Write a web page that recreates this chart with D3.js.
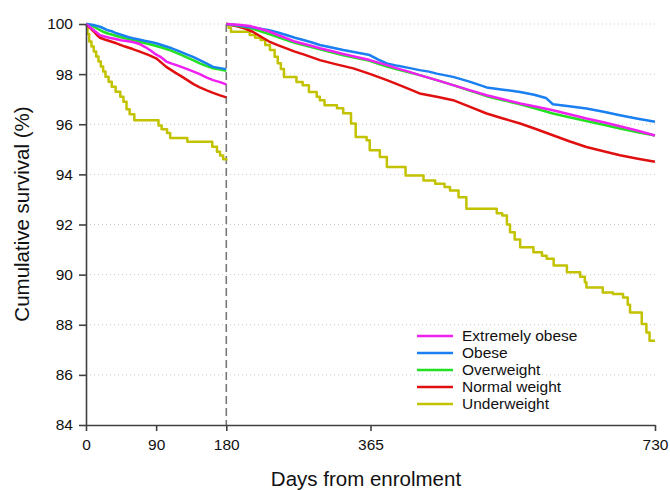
<!DOCTYPE html>
<html>
<head>
<meta charset="utf-8">
<script src="https://cdnjs.cloudflare.com/ajax/libs/d3/7.8.5/d3.min.js"></script>
<style>
  body { margin: 0; background: #fff; font-family: "Liberation Sans", Arial, sans-serif; }
</style>
</head>
<body>
<div id="chart"></div>
<script>
// ---- data: [day, cumulative survival %] ----
// first window (0-180 days)
var extObese1 = [[0,100],[5,99.88],[10,99.75],[18,99.55],[24,99.5],[30,99.45],[38,99.4],[45,99.35],[52,99.32],[60,99.28],[69,99.2],[76,99.08],[82,98.96],[88,98.82],[95,98.7],[103,98.5],[110,98.42],[116,98.36],[123,98.28],[130,98.2],[138,98.1],[146,98.0],[155,97.86],[163,97.76],[172,97.68],[180,97.59]];
var obese1 = [[0,100],[8,99.97],[13,99.93],[18,99.89],[23,99.82],[28,99.75],[34,99.7],[39,99.63],[45,99.57],[50,99.52],[55,99.47],[60,99.43],[68,99.38],[75,99.33],[83,99.28],[90,99.23],[97,99.16],[103,99.1],[110,99.03],[116,98.96],[123,98.87],[130,98.78],[138,98.68],[146,98.56],[155,98.42],[163,98.29],[172,98.24],[180,98.2]];
var overweight1 = [[0,100],[8,99.92],[13,99.84],[18,99.76],[23,99.68],[28,99.62],[34,99.57],[39,99.52],[45,99.47],[50,99.43],[55,99.4],[60,99.36],[68,99.3],[75,99.24],[83,99.18],[90,99.12],[97,99.06],[103,99.0],[110,98.93],[116,98.85],[123,98.76],[130,98.66],[138,98.55],[146,98.43],[155,98.32],[163,98.23],[172,98.18],[180,98.13]];
var normal1 = [[0,100],[5,99.85],[10,99.7],[14,99.56],[18,99.45],[24,99.38],[30,99.32],[39,99.23],[45,99.16],[50,99.1],[60,99.0],[69,98.9],[80,98.77],[90,98.63],[97,98.45],[103,98.29],[109,98.17],[115,98.05],[123,97.9],[130,97.76],[138,97.6],[146,97.47],[155,97.35],[163,97.25],[172,97.15],[180,97.07]];
var under1 = [[0,100],[2,99.6],[4,99.3],[7,99.1],[10,98.9],[13,98.7],[16,98.5],[19,98.3],[22,98.1],[25,97.9],[29,97.7],[33,97.5],[38,97.3],[44,97.1],[48,96.9],[52,96.6],[56,96.4],[62,96.16],[93,95.95],[97,95.8],[104,95.65],[108,95.45],[130,95.3],[162,95.1],[168,94.9],[172,94.75],[176,94.6],[180,94.55]];

// second window (180-730 days, restarted at 100%)
var extObese2 = [[180,100],[195,99.97],[210,99.92],[222,99.82],[235,99.7],[246,99.56],[257,99.43],[268,99.3],[280,99.2],[290,99.12],[300,99.03],[315,98.92],[330,98.8],[347,98.68],[364,98.56],[375,98.46],[386,98.36],[400,98.22],[414,98.1],[428,97.96],[450,97.76],[471,97.56],[492,97.36],[514,97.16],[535,97.0],[557,96.83],[578,96.7],[599,96.56],[620,96.4],[642,96.23],[664,96.08],[685,95.92],[708,95.74],[730,95.55]];
var obese2 = [[180,100],[195,99.95],[210,99.88],[222,99.82],[235,99.75],[246,99.66],[257,99.56],[268,99.45],[280,99.35],[290,99.26],[300,99.16],[315,99.06],[330,98.96],[347,98.86],[364,98.76],[375,98.58],[386,98.43],[400,98.33],[414,98.25],[428,98.16],[440,98.1],[450,98.02],[471,97.89],[492,97.7],[514,97.47],[535,97.38],[557,97.29],[575,97.18],[590,97.05],[599,96.8],[620,96.72],[642,96.63],[664,96.5],[685,96.36],[708,96.22],[730,96.1]];
var overweight2 = [[180,100],[195,99.93],[210,99.85],[222,99.73],[235,99.6],[246,99.48],[257,99.36],[268,99.25],[280,99.15],[290,99.07],[300,98.99],[315,98.87],[330,98.75],[347,98.64],[364,98.53],[375,98.41],[386,98.3],[400,98.18],[414,98.07],[428,97.96],[450,97.76],[471,97.56],[492,97.34],[514,97.12],[535,96.96],[557,96.8],[578,96.62],[599,96.43],[620,96.28],[642,96.13],[664,95.98],[685,95.83],[708,95.68],[730,95.55]];
var normal2 = [[180,100],[195,99.9],[204,99.82],[214,99.69],[224,99.5],[235,99.3],[246,99.16],[257,99.03],[268,98.9],[280,98.78],[290,98.67],[300,98.56],[320,98.4],[343,98.23],[365,98.0],[386,97.76],[407,97.5],[428,97.23],[450,97.1],[471,96.96],[492,96.7],[514,96.43],[535,96.23],[557,96.03],[578,95.8],[599,95.56],[620,95.32],[642,95.09],[664,94.92],[685,94.76],[708,94.62],[730,94.5]];
var under2 = [[180,100],[183,99.85],[186,99.69],[210,99.56],[217,99.45],[224,99.36],[230,99.16],[236,98.96],[242,98.69],[246,98.43],[250,98.2],[254,97.89],[270,97.69],[278,97.56],[286,97.29],[296,97.1],[300,96.96],[306,96.76],[322,96.64],[330,96.44],[340,96.03],[346,95.49],[360,95.36],[364,94.96],[377,94.69],[386,94.29],[410,93.96],[433,93.76],[448,93.63],[460,93.5],[467,93.36],[478,93.09],[488,92.63],[527,92.45],[534,92.36],[540,92.0],[544,91.69],[550,91.4],[557,91.09],[574,90.89],[585,90.75],[591,90.63],[600,90.36],[617,90.09],[634,89.92],[640,89.7],[642,89.49],[663,89.29],[676,89.23],[689,89.09],[695,88.8],[698,88.49],[713,88.03],[719,87.69],[723,87.36],[730,87.36]];

var groups = ["Extremely obese", "Obese", "Overweight", "Normal weight", "Underweight"];
var groupColors = ["#f020f0", "#1a7ff0", "#22e022", "#e01010", "#c2c200"];
var xTicks = [0, 90, 180, 365, 730];
var yTicks = [84, 86, 88, 90, 92, 94, 96, 98, 100];

var series = [
  {name: "Underweight", parts: [under1, under2], step: true},
  {name: "Normal weight", parts: [normal1, normal2]},
  {name: "Overweight", parts: [overweight1, overweight2]},
  {name: "Obese", parts: [obese1, obese2]},
  {name: "Extremely obese", parts: [extObese1, extObese2]}
];

var margin = {top: 24, right: 15, bottom: 65, left: 86};
var W = 670, H = 490;
var width = W - margin.left - margin.right,
    height = H - margin.top - margin.bottom;

var svg = d3.select("#chart").append("svg")
    .attr("width", W)
    .attr("height", H);

var g = svg.append("g")
    .attr("transform", "translate(" + margin.left + "," + margin.top + ")");

var x = d3.scaleLinear().domain([0, 730]).range([0, 569]);
var y = d3.scaleLinear().domain([84, 100]).range([height, 0]);

var colour = d3.scaleOrdinal().domain(groups).range(groupColors);

// grid
g.append("g").selectAll("line")
  .data(yTicks.filter(function(d) { return d > 84; }))
  .enter().append("line")
    .attr("x1", 0)
    .attr("x2", x(730) + 2)
    .attr("y1", function(d) { return y(d); })
    .attr("y2", function(d) { return y(d); })
    .attr("stroke", "#c8c8c8")
    .attr("stroke-width", 1)
    .attr("stroke-dasharray", "1,3");

// divider at 180 days
g.append("line")
  .attr("x1", x(180)).attr("x2", x(180))
  .attr("y1", y(100)).attr("y2", height)
  .attr("stroke", "#777")
  .attr("stroke-width", 1.6)
  .attr("stroke-dasharray", "8,4");

// curves
var line = d3.line()
  .x(function(d) { return x(d[0]); })
  .y(function(d) { return y(d[1]); });

var stepLine = d3.line()
  .curve(d3.curveStepAfter)
  .x(function(d) { return x(d[0]); })
  .y(function(d) { return y(d[1]); });

series.forEach(function(s) {
  s.parts.forEach(function(p) {
    g.append("path")
      .datum(p)
      .attr("fill", "none")
      .attr("stroke", colour(s.name))
      .attr("stroke-width", 2.5)
      .attr("stroke-linejoin", "round")
      .attr("d", s.step ? stepLine : line);
  });
});

// axes
var xAxis = g.append("g")
  .attr("transform", "translate(0," + height + ")")
  .call(d3.axisBottom(x).tickValues(xTicks).tickSize(6).tickSizeOuter(0).tickPadding(8));

var yAxis = g.append("g")
  .call(d3.axisLeft(y).tickValues(yTicks).tickSize(7).tickSizeOuter(0).tickPadding(6));

[xAxis, yAxis].forEach(function(a) {
  a.select(".domain").attr("stroke", "#404040").attr("stroke-width", 1.6);
  a.selectAll(".tick line").attr("stroke", "#404040").attr("stroke-width", 1.6);
  a.selectAll(".tick text")
    .attr("fill", "#111")
    .style("font-family", "'Liberation Sans', Arial, sans-serif")
    .style("font-size", "15.5px");
});

// axis titles
svg.append("text")
  .attr("transform", "translate(29," + 214 + ") rotate(-90)")
  .attr("text-anchor", "middle")
  .attr("fill", "#111")
  .style("font-size", "20.5px")
  .text("Cumulative survival (%)");

svg.append("text")
  .attr("x", 366)
  .attr("y", 486)
  .attr("text-anchor", "middle")
  .attr("fill", "#111")
  .style("font-size", "20.5px")
  .text("Days from enrolment");

// legend
var legend = svg.append("g")
  .attr("transform", "translate(417,336)");

var item = legend.selectAll("g")
  .data(groups)
  .enter().append("g")
    .attr("transform", function(d, i) { return "translate(0," + (i * 17) + ")"; });

item.append("line")
  .attr("x1", 0).attr("x2", 36)
  .attr("stroke", function(d) { return colour(d); })
  .attr("stroke-width", 2.5);

item.append("text")
  .attr("x", 45)
  .attr("dy", "0.35em")
  .attr("fill", "#111")
  .style("font-size", "15.5px")
  .text(function(d) { return d; });
</script>
</body>
</html>
